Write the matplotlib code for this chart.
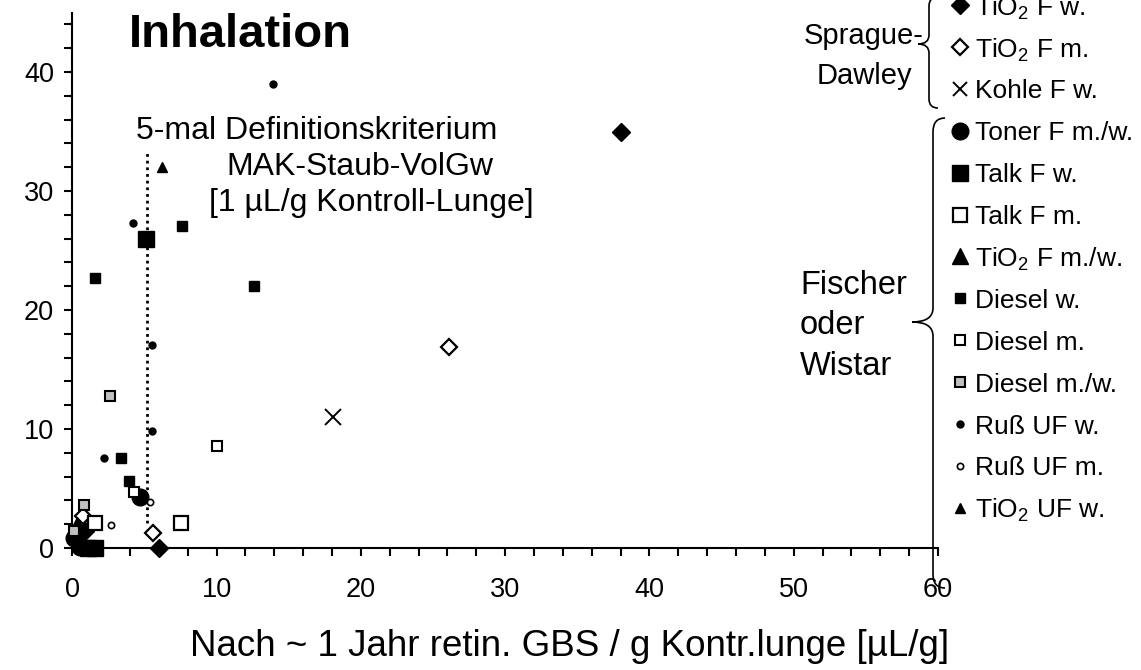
import matplotlib
matplotlib.use('Agg')
import matplotlib.pyplot as plt
from matplotlib.path import Path
from matplotlib.patches import PathPatch
from matplotlib.lines import Line2D
import numpy as np

plt.rcParams['font.family'] = ['Liberation Sans', 'DejaVu Sans']
plt.rcParams['mathtext.fontset'] = 'custom'
plt.rcParams['mathtext.rm'] = 'Liberation Sans'
plt.rcParams['mathtext.it'] = 'Liberation Sans:italic'
plt.rcParams['mathtext.bf'] = 'Liberation Sans:bold'

# ---------------- data ----------------
tio2_f_w_x = [38.0, 6.0, 0.9]
tio2_f_w_y = [35.0, 0.0, 1.4]
tio2_f_m_x = [26.1, 5.6, 0.75]
tio2_f_m_y = [16.9, 1.3, 2.7]
kohle_f_w_x = [18.1]
kohle_f_w_y = [11.0]
toner_x = [4.7, 0.1, 0.5]
toner_y = [4.3, 0.8, 0.1]
talk_f_w_x = [5.1, 1.1, 1.6]
talk_f_w_y = [26.0, 0.0, 0.0]
talk_f_m_x = [7.5, 1.6]
talk_f_m_y = [2.1, 2.1]
tio2_f_mw_x = [0.3]
tio2_f_mw_y = [1.9]
diesel_w_x = [1.6, 7.6, 12.6, 3.4, 3.9]
diesel_w_y = [22.7, 27.1, 22.0, 7.6, 5.6]
diesel_m_x = [10.0, 4.3]
diesel_m_y = [8.6, 4.7]
diesel_mw_x = [2.6, 0.8, 0.1]
diesel_mw_y = [12.8, 3.6, 1.4]
russ_uf_w_x = [13.9, 4.2, 5.5, 5.5, 2.2]
russ_uf_w_y = [39.0, 27.3, 17.1, 9.8, 7.6]
russ_uf_m_x = [5.4, 2.7]
russ_uf_m_y = [3.9, 1.9]
tio2_uf_w_x = [6.2]
tio2_uf_w_y = [32.0]

criterion_x = 5.2
criterion_y = [2.1, 33.4]

labels = ['TiO$_2$ F w.', 'TiO$_2$ F m.', 'Kohle F w.', 'Toner F m./w.', 'Talk F w.',
          'Talk F m.', 'TiO$_2$ F m./w.', 'Diesel w.', 'Diesel m.', 'Diesel m./w.',
          'Ruß UF w.', 'Ruß UF m.', 'TiO$_2$ UF w.']

series = [
    (tio2_f_w_x, tio2_f_w_y), (tio2_f_m_x, tio2_f_m_y), (kohle_f_w_x, kohle_f_w_y),
    (toner_x, toner_y), (talk_f_w_x, talk_f_w_y), (talk_f_m_x, talk_f_m_y),
    (tio2_f_mw_x, tio2_f_mw_y), (diesel_w_x, diesel_w_y), (diesel_m_x, diesel_m_y),
    (diesel_mw_x, diesel_mw_y), (russ_uf_w_x, russ_uf_w_y), (russ_uf_m_x, russ_uf_m_y),
    (tio2_uf_w_x, tio2_uf_w_y),
]

# marker styles: (marker, size, face, edge, edgewidth)
styles = [
    ('D', 9.0, 'black', 'black', 1.0),
    ('D', 8.2, 'white', 'black', 1.6),
    ('x', 12.0, 'none', 'black', 1.4),
    ('o', 12.0, 'black', 'black', 1.0),
    ('s', 11.5, 'black', 'black', 1.0),
    ('s', 10.5, 'white', 'black', 1.6),
    ('^', 12.0, 'black', 'black', 1.0),
    ('s', 7.5, 'black', 'black', 1.0),
    ('s', 6.8, 'white', 'black', 1.5),
    ('s', 6.8, '#c0c0c0', 'black', 1.5),
    ('o', 5.0, 'black', 'black', 1.0),
    ('o', 4.5, 'white', 'black', 1.2),
    ('^', 6.5, 'black', 'black', 1.0),
]

W, H = 1141, 670
fig = plt.figure(figsize=(W / 100, H / 100), dpi=100)
ax = fig.add_axes([72.3 / W, 1 - 548 / H, (938 - 72.3) / W, (548 - 12.5) / H])
ax.set_xlim(0, 60)
ax.set_ylim(0, 45)

for (xs, ys), (m, ms, fc, ec, ew) in zip(series, styles):
    ax.plot(xs, ys, linestyle='none', marker=m, markersize=ms, markerfacecolor=fc,
            markeredgecolor=ec, markeredgewidth=ew, clip_on=False, zorder=3)

ax.plot([criterion_x, criterion_x], criterion_y, color='black', linestyle=(0, (1, 1.4)),
        linewidth=2.0, zorder=2)

for s in ['top', 'right']:
    ax.spines[s].set_visible(False)
for s in ['left', 'bottom']:
    ax.spines[s].set_linewidth(1.5)

ax.set_xticks(np.arange(0, 61, 10))
ax.set_xticks(np.arange(0, 61, 2), minor=True)
ax.set_yticks(np.arange(0, 41, 10))
ax.set_yticks(np.arange(0, 45, 2), minor=True)
ax.tick_params(which='both', direction='out', length=6, width=1.5)
ax.tick_params(axis='x', which='major', labelsize=19.5, pad=15)
ax.tick_params(axis='y', which='major', labelsize=19.5, pad=7)

fig.text(570 / W, 1 - 646 / H, 'Nach ~ 1 Jahr retin. GBS / g Kontr.lunge [µL/g]',
         fontsize=26.5, ha='center', va='center')

# title and annotations
fig.text(240 / W, 1 - 35 / H, 'Inhalation', fontsize=34, fontweight='bold',
         ha='center', va='center')
fig.text(317 / W, 1 - 131 / H, '5-mal Definitionskriterium', fontsize=23,
         ha='center', va='center')
fig.text(360 / W, 1 - 167 / H, 'MAK-Staub-VolGw', fontsize=23, ha='center', va='center')
fig.text(371 / W, 1 - 203 / H, '[1 µL/g Kontroll-Lunge]', fontsize=23,
         ha='center', va='center')

fig.text(864 / W, 1 - 56 / H, 'Sprague-\nDawley', fontsize=21, ha='center', va='center',
         linespacing=1.55)
fig.text(800 / W, 1 - 326 / H, 'Fischer\noder\nWistar', fontsize=23.5, ha='left',
         va='center', linespacing=1.38)

# legend (manual)
y0, dy = 5, 41.9
for i, (lab, (m, ms, fc, ec, ew)) in enumerate(zip(labels, styles)):
    yy = 1 - (y0 + i * dy) / H
    lsz = ms if m != 'x' else 10
    fig.add_artist(Line2D([960 / W], [yy], transform=fig.transFigure, marker=m,
                          markersize=lsz, markerfacecolor=fc, markeredgecolor=ec,
                          markeredgewidth=ew, linestyle='none'))
    fig.text(975 / W, yy, lab, fontsize=19, ha='left', va='center_baseline')


def brace(xe, xm, xp, yt, yb, ym, r):
    pts = [(xe, yt), (xm, yt), (xm, yt + r), (xm, ym - r), (xm, ym), (xp, ym),
           (xm, ym), (xm, ym + r), (xm, yb - r), (xm, yb), (xe, yb)]
    codes = [Path.MOVETO, Path.CURVE3, Path.CURVE3, Path.LINETO, Path.CURVE3, Path.CURVE3,
             Path.CURVE3, Path.CURVE3, Path.LINETO, Path.CURVE3, Path.CURVE3]
    verts = [(x / W, 1 - y / H) for x, y in pts]
    p = PathPatch(Path(verts, codes), transform=fig.transFigure, facecolor='none',
                  edgecolor='black', linewidth=1.2)
    fig.add_artist(p)


brace(945, 933, 912, 118, 588, 322, 14)
brace(938, 929, 918, -3, 108, 44, 9)

fig.savefig('out.png', dpi=100)
